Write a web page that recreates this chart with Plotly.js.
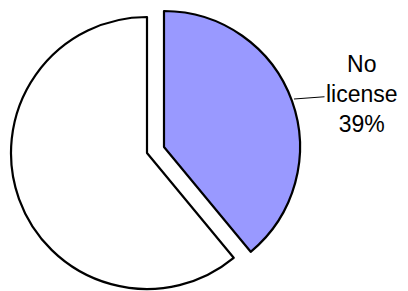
<!DOCTYPE html>
<html>
<head>
<meta charset="utf-8">
<script src="https://cdn.plot.ly/plotly-3.0.1.min.js"></script>
<style>html,body{margin:0;padding:0;background:#fff;}#chart{width:408px;height:291px;}</style>
</head>
<body>
<div id="chart"></div>
<script>
const categories = ["No license", "License"];
const values = [39, 61];
const sliceColors = ["#9999FF", "#FFFFFF"];

const W = 408, H = 291;
const total = values.reduce((a, b) => a + b, 0);
const pct = Math.round(values[0] / total * 100);

function dom(cx, cy, r) {
  return {
    x: [(cx - r) / W, (cx + r) / W],
    y: [(H - cy - r) / H, (H - cy + r) / H]
  };
}

const R = 136;
const base = {
  type: "pie",
  labels: categories,
  values: values,
  sort: false,
  direction: "clockwise",
  rotation: 0,
  textinfo: "none",
  hoverinfo: "label+percent",
  showlegend: false
};

// remaining (white) slice, in place
const t1 = Object.assign({}, base, {
  domain: dom(147, 153, R),
  marker: {
    colors: ["rgba(0,0,0,0)", sliceColors[1]],
    line: { color: "#000", width: [0, 2.2] }
  }
});
// exploded "No license" slice
const t2 = Object.assign({}, base, {
  domain: dom(164, 147, R),
  marker: {
    colors: [sliceColors[0], "rgba(0,0,0,0)"],
    line: { color: "#000", width: [2.2, 0] }
  }
});

const layout = {
  width: W, height: H,
  margin: { l: 0, r: 0, t: 0, b: 0 },
  paper_bgcolor: "#fff",
  plot_bgcolor: "#fff",
  font: { family: "Liberation Sans, Arial, sans-serif", color: "#000" },
  annotations: [{
    xref: "paper", yref: "paper",
    x: 294 / W, y: (H - 99) / H,
    text: categories[0].replace(" ", "<br>") + "<br>" + pct + "%",
    font: { size: 23, color: "#000", family: "Liberation Sans, Arial, sans-serif" },
    showarrow: true, arrowhead: 0, arrowwidth: 1, arrowcolor: "#000",
    ax: 68, ay: -5, standoff: 0, borderpad: 1
  }]
};

Plotly.newPlot("chart", [t1, t2], layout, { displayModeBar: false, staticPlot: true });
</script>
</body>
</html>
